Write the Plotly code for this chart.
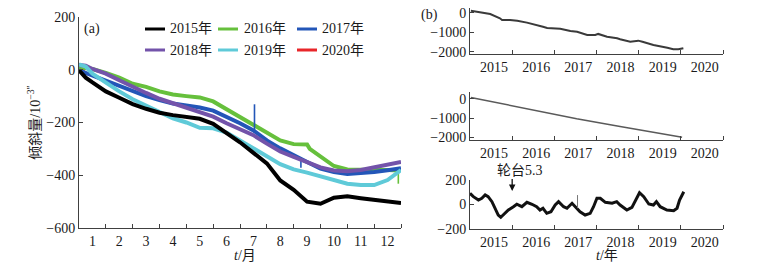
import plotly.graph_objects as go

# ---------------- Panel (a): monthly tilt curves per year ----------------
month_labels = ["1", "2", "3", "4", "5", "6", "7", "8", "9", "10", "11", "12"]
month_grid = [0, 0.25, 0.5, 1, 1.5, 2, 2.5, 3, 3.5, 4, 4.5, 5, 5.5, 6, 6.5, 7, 7.5,
              8, 8.5, 9, 9.5, 10, 10.5, 11, 11.5, 12]

y2015 = [-2, -30, -48, -82, -106, -130, -148, -163, -172, -180, -186, -205, -238, -275,
         -315, -355, -420, -455, -500, -508, -485, -480, -487, -494, -500, -505]

m2016 = [0, 0.5, 1, 1.5, 2, 2.5, 3, 3.5, 4, 4.5, 5, 5.5, 6, 6.5, 7, 7.5, 8, 8.5, 8.6,
         9, 9.5, 10, 10.5, 11, 11.5, 11.88, 11.92, 12]
y2016 = [10, 3, -12, -30, -53, -65, -82, -94, -100, -105, -120, -150, -178, -210, -240,
         -268, -282, -283, -300, -330, -365, -378, -380, -380, -380, -380, -382, -375]
m2016_dip = [11.9, 11.9]
y2016_dip = [-380, -432]

m2017 = [0, 0.5, 1, 1.5, 2, 2.5, 3, 3.5, 4, 4.5, 5, 5.5, 6, 6.5, 7,
         7.5, 8, 8.5, 9, 9.5, 10, 10.5, 11, 11.5, 12]
y2017 = [-2, -22, -40, -60, -80, -100, -115, -128, -135, -143, -155, -178, -203, -230,
         -268, -298, -322, -350, -375, -388, -395, -392, -388, -381, -373]
m2017_spikes = [6.54, 6.54, None, 8.27, 8.27]
y2017_spikes = [-240, -131, None, -332, -372]

y2018 = [18, 15, 3, -15, -40, -65, -88, -110, -128, -146, -162, -178, -203, -225, -248,
         -280, -310, -330, -350, -370, -382, -385, -380, -370, -357, -350]

y2019 = [20, 12, -15, -50, -82, -112, -137, -162, -184, -200, -220, -222, -238, -268,
         -300, -328, -358, -378, -390, -405, -420, -432, -437, -437, -418, -380]

m2020 = [0, 0.1, 0.2]
y2020 = [5, 2, -5]

# ---------------- Panel (b): multi-year series ----------------
year_labels = ["2015", "2016", "2017", "2018", "2019", "2020"]

t_raw = [2015.02, 2015.31, 2015.48, 2015.71, 2015.76, 2015.95, 2016.12, 2016.35, 2016.50,
         2016.73, 2016.83, 2016.97, 2017.14, 2017.38, 2017.54, 2017.78, 2017.97, 2018.04,
         2018.25, 2018.49, 2018.56, 2018.80, 2018.99, 2019.09, 2019.35, 2019.68, 2019.82,
         2019.94, 2020.06]
v_raw = [100, -30, -70, -290, -375, -375, -410, -510, -580, -720, -785, -800, -820, -940,
         -975, -1145, -1145, -1090, -1230, -1310, -1365, -1490, -1435, -1490, -1655, -1795,
         -1880, -1880, -1825]

t_trend = [2015.02, 2017.53, 2018.56, 2020.03]
v_trend = [70, -1040, -1440, -2000]

t_res = [2015.00, 2015.08, 2015.20, 2015.28, 2015.36, 2015.43, 2015.52, 2015.59, 2015.67,
         2015.73, 2015.79, 2015.91, 2016.03, 2016.11, 2016.23, 2016.35, 2016.47, 2016.58,
         2016.66, 2016.73, 2016.82, 2016.92, 2017.02, 2017.10, 2017.22, 2017.30, 2017.42,
         2017.49, 2017.61, 2017.73, 2017.85, 2017.93, 2018.01,
         2018.09, 2018.21, 2018.37, 2018.48, 2018.56, 2018.72, 2018.84, 2018.94, 2019.02,
         2019.12, 2019.24, 2019.35, 2019.42, 2019.51, 2019.67, 2019.83, 2019.91, 2019.97,
         2020.07]
v_res = [91, 64, 37, 51, 78, 64, 23, -31, -86, -104, -86, -45, -18, 2, -18, 18, 2, -18,
         -45, -31, -72, -59, -4, 23, -18, -31, 10, -18, -59, -86, -72, -18,
         51, 51, 18, 10, 23, -4, -45, -23, 37, 96, 64, 4, -4, 23, -18, -45, -51, -31, 37,
         104]
t_res_spike = [2017.55, 2017.55]
v_res_spike = [-30, 77]

quake_year = 2016.0
quake_label = "轮台5.3"

FONT = "Liberation Serif, Times New Roman, Noto Sans CJK SC, serif"
FS = 14
AX = "#404040"

# page body has an 8px margin: size the figure so it fits the 762x270 window
OFF = 8
W, H = 762 - 2 * OFF, 270 - 2 * OFF

def fx(px):
    return (px - OFF) / W
def fy(py):
    return 1 - (py - OFF) / H
def px_x(a, b):
    return [fx(a), fx(b)]
def px_y(top, bottom):
    return [fy(bottom), fy(top)]

fig = go.Figure()

# Panel (a) traces, drawing order bottom -> top
series_a = [
    ("2020年", m2020, y2020, "#e8262a"),
    ("2016年", m2016, y2016, "#66c03c"),
    ("2017年", m2017, y2017, "#2356b8"),
    ("2018年", month_grid, y2018, "#7353aa"),
    ("2019年", month_grid, y2019, "#5fcad8"),
    ("2015年", month_grid, y2015, "#000000"),
]
colors = {}
for name, xs, ys, col in series_a:
    colors[name] = col
    fig.add_trace(go.Scatter(x=xs, y=ys, mode="lines", name=name, showlegend=False,
                             line=dict(color=col, width=4), xaxis="x", yaxis="y"))
    if name == "2016年":
        fig.add_trace(go.Scatter(x=m2016_dip, y=y2016_dip, mode="lines", showlegend=False,
                                 line=dict(color=col, width=1.6), xaxis="x", yaxis="y"))
    if name == "2017年":
        fig.add_trace(go.Scatter(x=m2017_spikes, y=y2017_spikes, mode="lines",
                                 showlegend=False, connectgaps=False,
                                 line=dict(color=col, width=1.6), xaxis="x", yaxis="y"))

fig.add_trace(go.Scatter(x=t_raw, y=v_raw, mode="lines", showlegend=False,
                         line=dict(color="#3a3a3a", width=2), xaxis="x2", yaxis="y2"))
fig.add_trace(go.Scatter(x=t_trend, y=v_trend, mode="lines", showlegend=False,
                         line=dict(color="#5a5a5a", width=1.5), xaxis="x3", yaxis="y3"))
fig.add_trace(go.Scatter(x=t_res, y=v_res, mode="lines", showlegend=False,
                         line=dict(color="#111111", width=3), xaxis="x4", yaxis="y4"))
fig.add_trace(go.Scatter(x=t_res_spike, y=v_res_spike, mode="lines", showlegend=False,
                         line=dict(color="#777777", width=1), xaxis="x4", yaxis="y4"))

axis_common = dict(showline=True, linecolor=AX, linewidth=1, mirror=False,
                   showgrid=False, zeroline=False, ticks="inside", ticklen=4,
                   tickcolor=AX, automargin=False, ticklabeloverflow="allow",
                   tickfont=dict(family=FONT, size=FS, color="#1a1a1a"))

month_centers = [i + 0.5 for i in range(12)]
year_centers = [2015.57 + i for i in range(6)]

fig.update_layout(
    width=W, height=H,
    margin=dict(l=0, r=0, t=0, b=0, autoexpand=False),
    paper_bgcolor="white", plot_bgcolor="white",
    font=dict(family=FONT, size=FS, color="#1a1a1a"),
    showlegend=False,
    xaxis=dict(axis_common, domain=px_x(79, 401), range=[0, 12],
               tickmode="array", tickvals=month_centers, ticktext=month_labels, ticks="",
               minor=dict(tickmode="array", tickvals=list(range(1, 13)), ticks="inside",
                          ticklen=4, tickcolor=AX),
               anchor="y"),
    yaxis=dict(axis_common, domain=px_y(17, 228), range=[-600, 200],
               tickmode="array", tickvals=[-600, -400, -200, 0, 200],
               title=dict(text="倾斜量/10<sup>−3″</sup>", font=dict(family=FONT, size=FS), standoff=2),
               anchor="x"),
)

for i, (top, bot, rng, tv) in enumerate([
        (8, 54, [-2120, 240], [-2000, -1000, 0]),
        (92, 140, [-2140, 350], [-2000, -1000, 0]),
        (180, 229, [-200, 200], [-200, 0, 200])], start=2):
    fig.update_layout({
        f"xaxis{i}": dict(axis_common, domain=px_x(470, 723), range=[2015, 2021],
                          tickmode="array", tickvals=year_centers, ticktext=year_labels,
                          ticks="",
                          minor=dict(tickmode="array", tickvals=list(range(2016, 2022)),
                                     ticks="inside", ticklen=4, tickcolor=AX),
                          anchor=f"y{i}"),
        f"yaxis{i}": dict(axis_common, domain=px_y(top, bot), range=rng,
                          tickmode="array", tickvals=tv, anchor=f"x{i}"),
    })

# legend for panel (a): 3 columns x 2 rows
legend_rows = [["2015年", "2016年", "2017年"], ["2018年", "2019年", "2020年"]]
legend_row_y = [29, 50]
legend_line_x = [(145, 165), (218, 238), (297, 317)]
legend_text_x = [168, 242, 320]

shapes = []
annotations = []
for r, row in enumerate(legend_rows):
    for c, name in enumerate(row):
        x0, x1 = legend_line_x[c]
        shapes.append(dict(type="line", xref="paper", yref="paper",
                           x0=fx(x0), x1=fx(x1), y0=fy(legend_row_y[r]), y1=fy(legend_row_y[r]),
                           line=dict(color=colors[name], width=3)))
        annotations.append(dict(text=name, x=fx(legend_text_x[c]), y=fy(legend_row_y[r]),
                                xref="paper", yref="paper", xanchor="left", yanchor="middle",
                                showarrow=False, font=dict(family=FONT, size=FS)))

def label(text, x, y):
    return dict(text=text, x=fx(x), y=fy(y), xref="paper", yref="paper",
                xanchor="center", yanchor="middle", showarrow=False,
                font=dict(family=FONT, size=FS))

annotations += [
    label("(a)", 92, 29),
    label("(b)", 429, 15),
    label("<i>t</i>/月", 245, 255),
    label("<i>t</i>/年", 607, 255),
    dict(text=quake_label, x=quake_year + 0.19, y=fy(170), xref="x4", yref="paper",
         xanchor="center", yanchor="middle", showarrow=False,
         font=dict(family=FONT, size=FS)),
    dict(text=".", x=quake_year, y=110, xref="x4", yref="y4", showarrow=True,
         ax=0, ay=-14, arrowhead=2, arrowsize=1, arrowwidth=1.3, arrowcolor="#111111",
         font=dict(size=1, color="rgba(0,0,0,0)")),
]
fig.update_layout(annotations=annotations, shapes=shapes)

fig.write_html("out.html")
